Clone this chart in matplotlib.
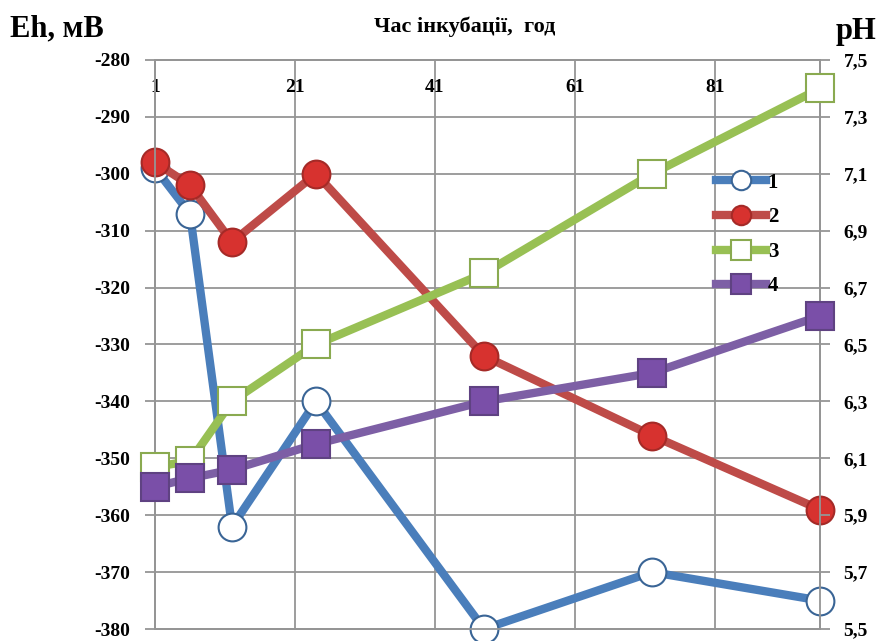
import numpy as np
import matplotlib.pyplot as plt
from matplotlib.ticker import FuncFormatter

# incubation time, hours
hours = [1, 6, 12, 24, 48, 72, 96]

# Eh, mV (left axis)
eh_1 = [-299, -307, -362, -340, -380, -370, -375]
eh_2 = [-298, -302, -312, -300, -332, -346, -359]

# pH (right axis)
ph_3 = [6.07, 6.09, 6.30, 6.50, 6.75, 7.10, 7.40]
ph_4 = [6.00, 6.03, 6.06, 6.15, 6.30, 6.40, 6.60]

x_ticks = [1, 21, 41, 61, 81]
eh_ticks = np.arange(-380, -279, 10)
ph_ticks = np.arange(5.5, 7.51, 0.2)

plt.rcParams['font.family'] = 'Liberation Serif'
plt.rcParams['font.weight'] = 'bold'
plt.rcParams['axes.unicode_minus'] = False

fig = plt.figure(figsize=(8.93, 6.41), dpi=100)
ax = fig.add_axes([155 / 893, 12 / 641, 665 / 893, 569 / 641])
ax2 = ax.twinx()

grid_col = '#959595'

# series 1 and 2 on Eh axis
ax.plot(hours, eh_1, color='#4a7ebb', lw=6, marker='o', ms=20,
        mfc='white', mec='#3a6596', mew=1.5, label='1', clip_on=False, zorder=3)
ax.plot(hours, eh_2, color='#be4b48', lw=6, marker='o', ms=20,
        mfc='#d7322f', mec='#a52a27', mew=1.5, label='2', clip_on=False, zorder=4)

# series 3 and 4 on pH axis
ax2.plot(hours, ph_3, color='#98c054', lw=6, marker='s', ms=20,
         mfc='white', mec='#8aaa50', mew=1.5, label='3', clip_on=False, zorder=3)
ax2.plot(hours, ph_4, color='#7d5fa5', lw=6, marker='s', ms=20,
         mfc='#7a4fa8', mec='#5f4282', mew=1.5, label='4', clip_on=False, zorder=4)

ax.set_xlim(1, 96)
ax.set_ylim(-380, -280)
ax2.set_ylim(5.5, 7.5)

ax.set_xticks(x_ticks)
ax.set_yticks(eh_ticks)
ax2.set_yticks(ph_ticks)
ax2.yaxis.set_major_formatter(FuncFormatter(lambda v, p: f'{v:.1f}'.replace('.', ',')))

ax.grid(True, color=grid_col, lw=1.3)
ax.set_axisbelow(True)
for a in (ax, ax2):
    for s in a.spines.values():
        s.set_color(grid_col)
        s.set_linewidth(1.3)

ax.xaxis.tick_top()
ax.tick_params(axis='x', direction='in', length=0, pad=-26, labelsize=14,
               colors='black')
ax.tick_params(axis='y', direction='out', length=7, width=1.3, color=grid_col,
               pad=11, labelsize=14)
ax2.tick_params(axis='y', direction='out', length=7, width=1.3, color=grid_col,
                pad=10, labelsize=14)

fig.text(10 / 893, 1 - 29 / 641, 'Eh, мВ', fontsize=22, fontweight='bold', va='center')
fig.text(465 / 893, 1 - 27 / 641, 'Час інкубації,  год', fontsize=16,
         fontweight='bold', ha='center', va='center')
fig.text(836 / 893, 1 - 32 / 641, 'pH', fontsize=22, fontweight='bold', va='center')

h1, l1 = ax.get_legend_handles_labels()
h2, l2 = ax2.get_legend_handles_labels()
leg = ax2.legend(h1 + h2, l1 + l2, loc='upper left', bbox_to_anchor=(0.815, 0.835),
                 frameon=False, fontsize=15, handlelength=2.4, handletextpad=0.1,
                 labelspacing=0.7, markerscale=0.7)

plt.savefig('out.png', dpi=100)
